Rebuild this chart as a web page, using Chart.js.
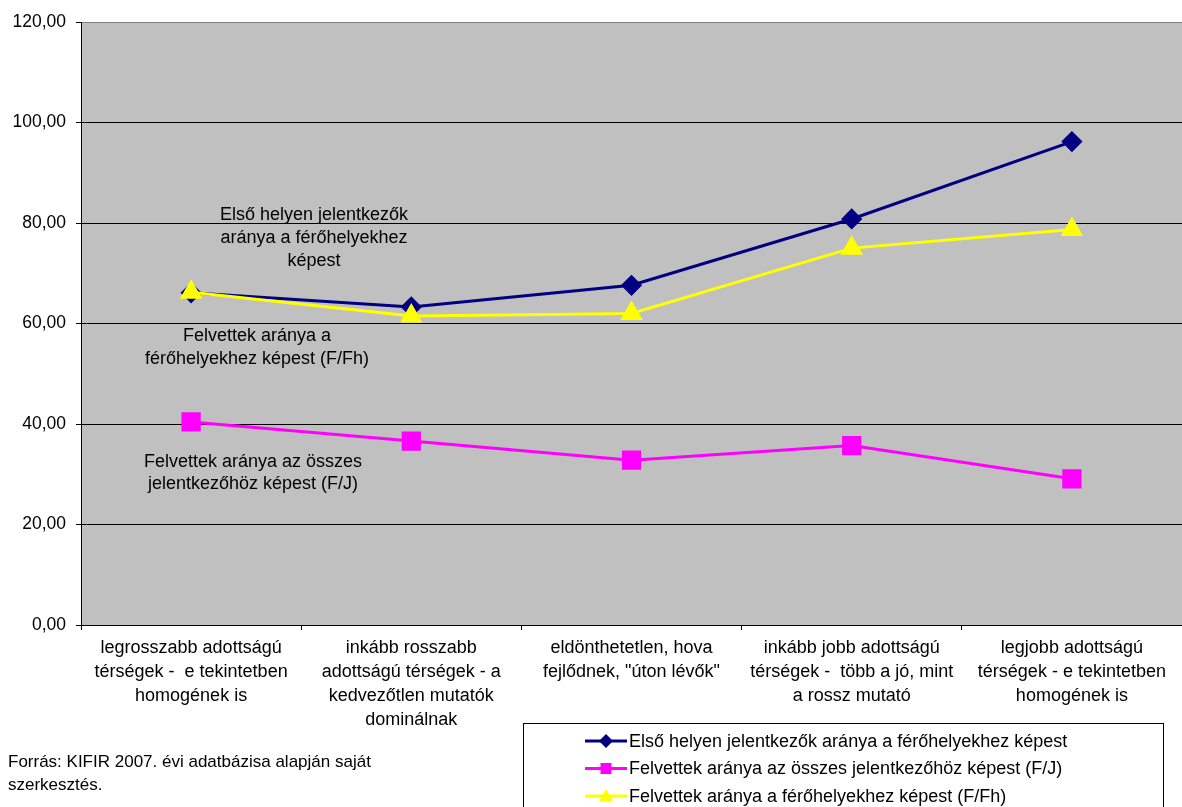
<!DOCTYPE html>
<html lang="hu">
<head>
<meta charset="utf-8">
<title>Jelentkezési és felvételi arányok</title>
<script src="https://cdn.jsdelivr.net/npm/chart.js"></script>
<style>
  html, body { margin: 0; padding: 0; background: #fff; overflow: hidden; }
  #chart { display: block; }
</style>
</head>
<body>
<canvas id="chart" width="1182" height="807"></canvas>
<script>
// térségtípusok (x tengely)
const categories = [
  ['legrosszabb adottságú', 'térségek -  e tekintetben', 'homogének is'],
  ['inkább rosszabb', 'adottságú térségek - a', 'kedvezőtlen mutatók', 'dominálnak'],
  ['eldönthetetlen, hova', 'fejlődnek, "úton lévők"'],
  ['inkább jobb adottságú', 'térségek -  több a jó, mint', 'a rossz mutató'],
  ['legjobb adottságú', 'térségek - e tekintetben', 'homogének is']
];

const seriesNames = [
  'Első helyen jelentkezők aránya a férőhelyekhez képest',
  'Felvettek aránya az összes jelentkezőhöz képest (F/J)',
  'Felvettek aránya a férőhelyekhez képest (F/Fh)'
];

const elsoHelyen = [66.1, 63.3, 67.6, 80.8, 96.2];
const felvettFJ  = [40.4, 36.6, 32.8, 35.7, 29.1];
const felvettFFh = [66.2, 61.5, 62.0, 75.0, 78.7];

const yTicks = { min: 0, max: 120, step: 20 };

// feliratok a rajzterületen
const noteBlue    = ['Első helyen jelentkezők', 'aránya a férőhelyekhez', 'képest'];
const noteYellow  = ['Felvettek aránya a', 'férőhelyekhez képest (F/Fh)'];
const noteMagenta = ['Felvettek aránya az összes', 'jelentkezőhöz képest (F/J)'];
const sourceText  = ['Forrás: KIFIR 2007. évi adatbázisa alapján saját', 'szerkesztés.'];

const FONT = 'Arial, "Liberation Sans", sans-serif';
Chart.defaults.font.family = FONT;
Chart.defaults.font.size = 18;
Chart.defaults.color = '#000';

const fmt = v => v.toFixed(2).replace('.', ',');

// szürke rajzterület háttér
const plotBg = {
  id: 'plotBg',
  beforeDraw(chart) {
    const { ctx, chartArea: a } = chart;
    ctx.save();
    ctx.fillStyle = '#c0c0c0';
    ctx.fillRect(a.left, a.top, a.right - a.left, a.bottom - a.top);
    ctx.restore();
  }
};

function drawMarker(ctx, style, x, y, r, color) {
  ctx.save();
  ctx.fillStyle = color;
  ctx.beginPath();
  if (style === 'rectRot') {
    ctx.moveTo(x, y - r); ctx.lineTo(x + r, y); ctx.lineTo(x, y + r); ctx.lineTo(x - r, y);
  } else if (style === 'rect') {
    ctx.rect(x - r, y - r, 2 * r, 2 * r);
  } else {
    ctx.moveTo(x, y - r); ctx.lineTo(x + r, y + r * 0.75); ctx.lineTo(x - r, y + r * 0.75);
  }
  ctx.closePath();
  ctx.fill();
  ctx.restore();
}

// szövegek + jelmagyarázat keretben
const extras = {
  id: 'extras',
  afterDraw(chart) {
    const ctx = chart.ctx;
    ctx.save();
    ctx.fillStyle = '#000';
    ctx.font = '18px ' + FONT;
    ctx.textBaseline = 'middle';

    ctx.textAlign = 'center';
    noteBlue.forEach((t, i) => ctx.fillText(t, 314, 215 + i * 23));
    noteYellow.forEach((t, i) => ctx.fillText(t, 257, 336 + i * 23));
    noteMagenta.forEach((t, i) => ctx.fillText(t, 253, 462 + i * 22));

    ctx.textAlign = 'left';
    ctx.font = '17px ' + FONT;
    sourceText.forEach((t, i) => ctx.fillText(t, 8, 762 + i * 23));

    // legend
    ctx.font = '18px ' + FONT;
    ctx.strokeStyle = '#000';
    ctx.lineWidth = 1;
    ctx.strokeRect(523.5, 723.5, 640, 100);
    chart.data.datasets.forEach((ds, i) => {
      const y = 741 + i * 27.5;
      ctx.strokeStyle = ds.borderColor;
      ctx.lineWidth = 3;
      ctx.beginPath();
      ctx.moveTo(585, y); ctx.lineTo(627, y);
      ctx.stroke();
      drawMarker(ctx, ds.pointStyle, 606, y, ds.pointStyle === 'rect' ? 5.5 : 7, ds.borderColor);
      ctx.fillStyle = '#000';
      ctx.fillText(ds.label, 629, y + 1);
    });
    ctx.restore();
  }
};

const chart = new Chart(document.getElementById('chart'), {
  type: 'line',
  data: {
    labels: categories,
    datasets: [
      {
        label: seriesNames[0], data: elsoHelyen,
        borderColor: '#000080', backgroundColor: '#000080',
        borderWidth: 3, pointStyle: 'rectRot', pointRadius: 8.5, order: 2
      },
      {
        label: seriesNames[1], data: felvettFJ,
        borderColor: '#ff00ff', backgroundColor: '#ff00ff',
        borderWidth: 3, pointStyle: 'rect', pointRadius: 11.5, order: 1
      },
      {
        label: seriesNames[2], data: felvettFFh,
        borderColor: '#ffff00', backgroundColor: '#ffff00',
        borderWidth: 3, pointStyle: 'triangle', pointRadius: 10, order: 0
      }
    ]
  },
  options: {
    responsive: false,
    animation: false,
    layout: { autoPadding: false, padding: { top: 22, right: 0, bottom: 0, left: 0 } },
    elements: { line: { tension: 0 }, point: { borderWidth: 0 } },
    plugins: { legend: { display: false }, tooltip: { enabled: false } },
    scales: {
      x: {
        offset: true,
        grid: { offset: true, drawOnChartArea: false, drawTicks: true, tickLength: 5, color: '#000' },
        border: { color: '#000', width: 1 },
        ticks: {
          autoSkip: false, maxRotation: 0, minRotation: 0, padding: 6,
          font: { size: 18, lineHeight: 1.33 }, color: '#000'
        },
        afterFit(scale) { scale.height = 182; }
      },
      y: {
        min: yTicks.min, max: yTicks.max,
        grid: {
          color: c => (c.tick && c.tick.value === yTicks.max) ? '#808080' : '#000',
          tickColor: '#000', tickLength: 5, lineWidth: 1
        },
        border: { color: '#000', width: 1 },
        ticks: { stepSize: yTicks.step, padding: 10, callback: v => fmt(v), font: { size: 17.5 }, color: '#000' },
        afterFit(scale) { scale.width = 81; }
      }
    }
  },
  plugins: [plotBg, extras]
});
</script>
</body>
</html>
